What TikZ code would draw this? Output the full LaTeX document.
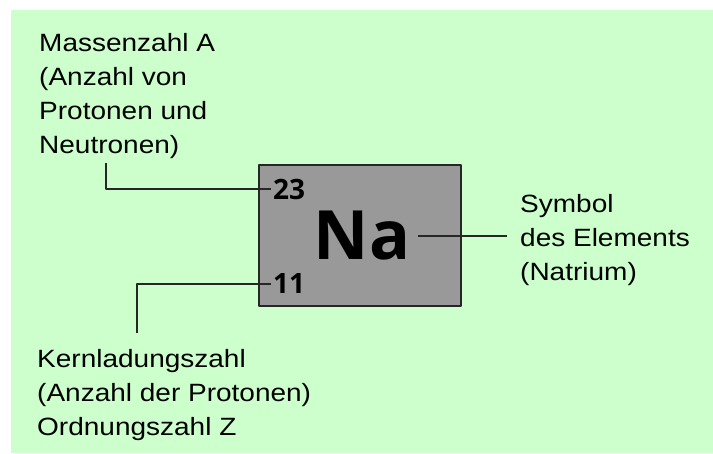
\documentclass[tikz,border=0pt]{standalone}
\usepackage{fontspec}
\setmainfont{Liberation Sans}[FakeStretch=1.12]
\newfontfamily\elemfont{Open Sans}
\usetikzlibrary{calc}

\definecolor{bggreen}{HTML}{CCFFCC}
\definecolor{boxgray}{HTML}{999999}

\begin{document}
\begin{tikzpicture}[x=1pt, y=-1pt, line join=round,
    label/.style={anchor=base west, inner sep=0pt, align=left,
        font=\fontsize{25}{34}\selectfont},
    zahl/.style={anchor=west, inner sep=0pt,
        font=\elemfont\bfseries\fontsize{28}{28}\selectfont},
    leitung/.style={line width=1.4pt, black!85}]
        % ---------------------------------------------------
        % Rahmen und Hintergrund
        % ---------------------------------------------------
        \useasboundingbox (0,0) rectangle (713,453);
        \fill[bggreen] (11,10) rectangle (713,453);

        % Elementkasten
        \node[draw=black!85, line width=1.5pt, fill=boxgray,
            minimum width=202pt, minimum height=141pt, inner sep=0pt]
            (elem) at (360,235.5) {};
        \node[inner sep=0pt, font=\elemfont\bfseries\fontsize{68}{68}\selectfont]
            (na) at (362,236) {Na};
        \node[zahl] (massnr) at (273,189) {23};
        \node[zahl] (ordnr) at (273,284) {11};

        % Beschriftungen (Anker = Grundlinie der letzten Zeile)
        \node[label] (mass) at (39,153)
            {Massenzahl A\\(Anzahl von\\Protonen und\\Neutronen)};
        \node[label] (kern) at (37,435)
            {Kernladungszahl\\(Anzahl der Protonen)\\Ordnungszahl Z};
        \node[label] (sym) at (520,280)
            {Symbol\\des Elements\\(Natrium)};

        % Hilfspunkte fuer die Leitungen
        \coordinate (m1) at (106,163);
        \coordinate (k1) at (137,333);
        \coordinate (s1) at (507,236);

        % Verbindungslinien
        \draw[leitung] (m1) |- ([xshift=-2pt]massnr.west);
        \draw[leitung] ([xshift=-2pt]ordnr.west) -| (k1);
        \draw[leitung] ([xshift=8pt]na.east |- s1) -- (s1);

    \end{tikzpicture}
\end{document}
